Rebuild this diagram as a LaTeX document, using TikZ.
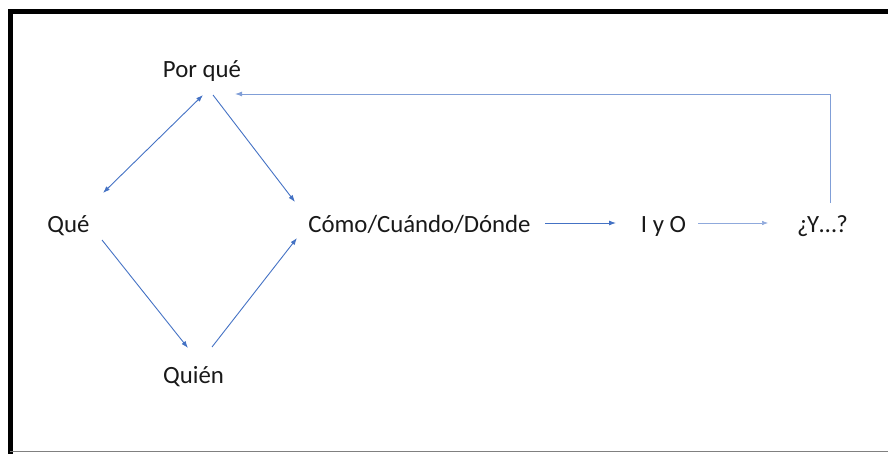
\documentclass[tikz,border=0pt]{standalone}
\usepackage{fontspec}
\setmainfont{Carlito}
\usetikzlibrary{arrows.meta}
\definecolor{arrblue}{HTML}{4472C4}
\definecolor{lightblue}{HTML}{8FA9DC}
\tikzset{
  lbl/.style={font=\fontsize{24.8}{29}\selectfont, text=black!90, inner sep=0pt, anchor=base},
  conn/.style={draw=arrblue, line width=0.9pt, -{Latex[length=7pt,width=5pt]}},
  dconn/.style={draw=arrblue, line width=0.9pt, {Latex[length=7pt,width=5pt]}-{Latex[length=7pt,width=5pt]}},
  lconn/.style={draw=lightblue, line width=0.6pt, -{Latex[length=6pt,width=4.5pt]}}
}
\begin{document}
\begin{tikzpicture}[x=1pt,y=-1pt]
\useasboundingbox (0,0) rectangle (888,454);
% frame
\draw[line width=5pt] (10.5,454) -- (10.5,11.5) -- (888,11.5);
\draw[gray, line width=1.5pt] (10,451.5) -- (888,451.5);
% nodes
\node[lbl] (pq) at (202,78) {Por qué};
\node[lbl] (que) at (68.5,232.5) {Qué};
\node[lbl] (qui) at (193.5,383) {Quién};
\node[lbl] (como) at (419.5,232.5) {Cómo/Cuándo/Dónde};
\node[lbl] (iyo) at (663.5,232.5) {I y O};
\node[lbl] (y) at (822.5,232.5) {¿Y…?};
% anchor coordinates
\coordinate (pqL) at (203,95);
\coordinate (pqR) at (213,95);
\coordinate (pqIn) at (235,94);
\coordinate (queT) at (103,193);
\coordinate (queB) at (102,240);
\coordinate (quiL) at (188,348);
\coordinate (quiR) at (212,347);
\coordinate (comoT) at (295,202);
\coordinate (comoB) at (297,238);
\coordinate (comoE) at (545,223);
\coordinate (iyoW) at (616,223);
\coordinate (iyoE) at (698,223);
\coordinate (yW) at (768,223);
\coordinate (yT) at (830,203);
% connectors
\draw[dconn] (queT) -- (pqL);
\draw[conn] (pqR) -- (comoT);
\draw[conn] (queB) -- (quiL);
\draw[conn] (quiR) -- (comoB);
\draw[conn] (comoE) -- (iyoW);
\draw[lconn] (iyoE) -- (yW);
\draw[conn, draw=lightblue!80!arrblue] (yT) |- (pqIn);
\end{tikzpicture}
\end{document}
